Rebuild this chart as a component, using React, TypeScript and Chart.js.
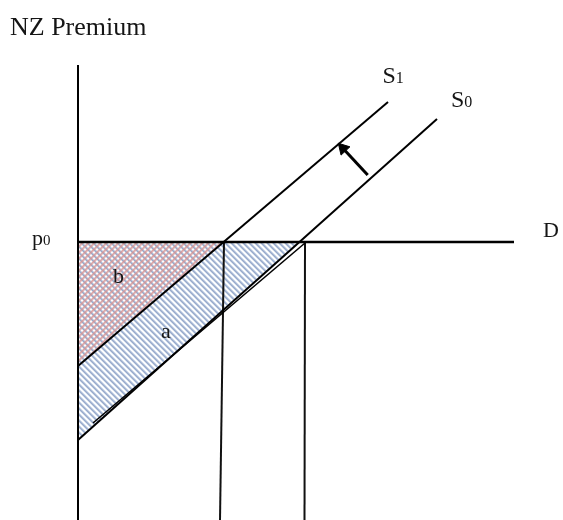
import React, { useEffect, useRef } from "react";
import { Chart, registerables } from "chart.js";

Chart.register(...registerables);

// ---- Diagram data (economic units: quantity on x, NZ premium on y) ----
const p0 = 27.8; // world price level (demand line D)
const axisPts = [
  { x: 0, y: 0 },
  { x: 0, y: 45.5 },
];
const demandPts = [
  { x: 0, y: p0 },
  { x: 43.6, y: p0 },
];
const s1Pts = [
  { x: 0, y: 15.4 },
  { x: 31.0, y: 41.8 },
];
const s0Pts = [
  { x: 0, y: 8.0 },
  { x: 35.9, y: 40.1 },
];
const s0InnerPts = [
  { x: 1.5, y: 9.7 },
  { x: 22.7, y: 27.7 },
];
const q1Pts = [
  { x: 14.6, y: p0 },
  { x: 14.2, y: 0 },
];
const q0Pts = [
  { x: 22.7, y: p0 },
  { x: 22.65, y: 0 },
];
const arrowPts = [
  { x: 28.97, y: 34.5 },
  { x: 26.51, y: 37.16 },
];
// area b : between S1 and p0
const areaBPts = [
  { x: 0, y: 15.4 },
  { x: 14.6, y: p0 },
];
// area a (+b underneath) : between S0 and p0
const areaAPts = [
  { x: 0, y: 8.0 },
  { x: 22.15, y: p0 },
];

type Label = { text: string; sub?: string; x: number; y: number; size: number; subSize?: number };
const labels: Label[] = [
  { text: "NZ Premium", x: -6.8, y: 48.5, size: 26 },
  { text: "p", sub: "0", x: -4.6, y: 27.5, size: 22, subSize: 15 },
  { text: "S", sub: "1", x: 30.45, y: 43.67, size: 24, subSize: 16 },
  { text: "S", sub: "0", x: 37.3, y: 41.33, size: 24, subSize: 16 },
  { text: "D", x: 46.5, y: 28.33, size: 22 },
  { text: "b", x: 3.5, y: 23.67, size: 22 },
  { text: "a", x: 8.3, y: 18.17, size: 22 },
];

const FONT = '"Liberation Serif", "DejaVu Serif", serif';

function makePattern(kind: "blue" | "pink"): CanvasPattern | string {
  const size = 6;
  const c = document.createElement("canvas");
  c.width = size;
  c.height = size;
  const ctx = c.getContext("2d");
  if (!ctx) return kind === "blue" ? "#c8d4e8" : "rgba(215,150,150,0.5)";
  const img = ctx.createImageData(size, size);
  for (let y = 0; y < size; y++) {
    for (let x = 0; x < size; x++) {
      const i = (y * size + x) * 4;
      if (kind === "blue") {
        const k = (((x - y) % size) + size) % size;
        const cols: number[][] = [
          [152, 170, 203, 255],
          [170, 186, 214, 255],
          [208, 219, 235, 255],
          [255, 255, 255, 255],
          [255, 255, 255, 255],
          [208, 219, 235, 255],
        ];
        const col = cols[k];
        img.data[i] = col[0];
        img.data[i + 1] = col[1];
        img.data[i + 2] = col[2];
        img.data[i + 3] = col[3];
      } else {
        const k = (x + y) % size;
        const alphas = [210, 180, 100, 0, 0, 100];
        img.data[i] = 214;
        img.data[i + 1] = 148;
        img.data[i + 2] = 148;
        img.data[i + 3] = alphas[k];
      }
    }
  }
  ctx.putImageData(img, 0, 0);
  const pat = ctx.createPattern(c, "repeat");
  return pat || "#c8d4e8";
}

const labelPlugin = {
  id: "diagramLabels",
  afterDatasetsDraw(chart: any) {
    const { ctx, scales } = chart;
    const xs = scales.x;
    const ys = scales.y;
    ctx.save();
    ctx.fillStyle = "#151515";
    ctx.textBaseline = "alphabetic";
    ctx.textAlign = "left";
    for (const l of labels) {
      const px = xs.getPixelForValue(l.x);
      const py = ys.getPixelForValue(l.y);
      ctx.font = `${l.size}px ${FONT}`;
      ctx.fillText(l.text, px, py);
      if (l.sub) {
        const w = ctx.measureText(l.text).width;
        ctx.font = `${l.subSize}px ${FONT}`;
        ctx.fillText(l.sub, px + w, py);
      }
    }
    ctx.restore();
  },
};

export default function App() {
  const ref = useRef<HTMLCanvasElement>(null);

  useEffect(() => {
    if (!ref.current) return;
    const blue = makePattern("blue");
    const pink = makePattern("pink");
    const line = (data: any[], width = 2, color = "#000") => ({
      data,
      showLine: true,
      borderColor: color,
      borderWidth: width,
      pointRadius: 0,
      pointHoverRadius: 0,
      fill: false,
      tension: 0,
    });
    const chart = new Chart(ref.current, {
      type: "scatter",
      data: {
        datasets: [
          line(axisPts, 2),
          line(demandPts, 2.5),
          line(s1Pts, 2),
          line(s0Pts, 2),
          line(s0InnerPts, 1.6),
          line(q1Pts, 2, "#111"),
          line(q0Pts, 2, "#111"),
          {
            data: arrowPts,
            showLine: true,
            borderColor: "#000",
            borderWidth: 3,
            pointRadius: [0, 7],
            pointHoverRadius: 0,
            pointStyle: "triangle",
            rotation: -43,
            pointBackgroundColor: "#000",
            pointBorderColor: "#000",
            pointBorderWidth: 1,
            fill: false,
          } as any,
          {
            data: areaBPts,
            showLine: true,
            borderWidth: 0,
            borderColor: "rgba(0,0,0,0)",
            pointRadius: 0,
            pointHoverRadius: 0,
            backgroundColor: pink,
            fill: { value: p0 },
          } as any,
          {
            data: areaAPts,
            showLine: true,
            borderWidth: 0,
            borderColor: "rgba(0,0,0,0)",
            pointRadius: 0,
            pointHoverRadius: 0,
            backgroundColor: blue,
            fill: { value: p0 },
          } as any,
        ],
      },
      options: {
        animation: false,
        responsive: true,
        maintainAspectRatio: false,
        layout: { padding: 0, autoPadding: false },
        events: [],
        scales: {
          x: { type: "linear", min: -7.8, max: 48.5, display: false },
          y: { type: "linear", min: 0, max: 52, display: false },
        },
        plugins: {
          legend: { display: false },
          tooltip: { enabled: false },
          title: { display: false },
          filler: { drawTime: "beforeDatasetsDraw" },
        } as any,
      },
      plugins: [labelPlugin],
    });
    return () => chart.destroy();
  }, []);

  return (
    <>
      <style>{"html,body{margin:0;padding:0;overflow:hidden;background:#fff}"}</style>
      <div
        style={{
          position: "fixed",
          left: 0,
          top: 0,
          width: 563,
          height: 520,
          overflow: "hidden",
          background: "#fff",
        }}
      >
        <canvas ref={ref} style={{ display: "block" }} />
      </div>
    </>
  );
}
